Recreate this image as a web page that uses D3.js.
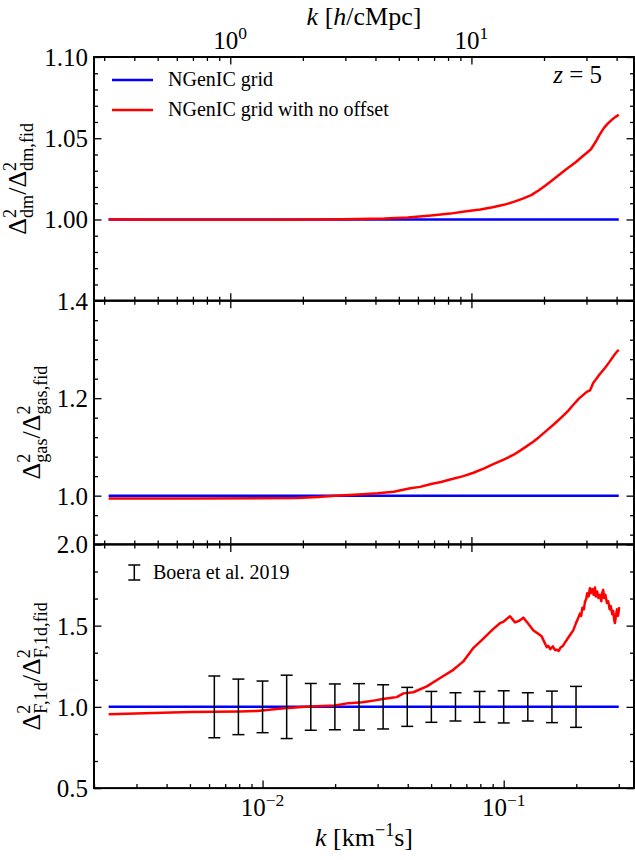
<!DOCTYPE html>
<html>
<head>
<meta charset="utf-8">
<script src="https://cdn.jsdelivr.net/npm/d3@7.9.0/dist/d3.min.js"></script>
<style>
  body { margin: 0; background: #fff; }
  svg text { font-family: "Liberation Serif", "DejaVu Serif", serif; fill: #000; }
</style>
</head>
<body>
<svg id="chart" width="635" height="860"></svg>
<script>
// x range in s/km, and conversion to h/cMpc at z = 5
const kMin = 0.002, kMax = 0.347;
const hPerKms = 136.1;

// fiducial "NGenIC grid" (ratio of itself = 1)
const kFid = [0.0023, 0.30];
const ratioFid = [1, 1];

// "NGenIC grid with no offset" / fiducial
const kDm = [0.0023, 0.004, 0.007, 0.012, 0.018, 0.025, 0.032, 0.040, 0.050, 0.060, 0.070, 0.080,
  0.090, 0.100, 0.110, 0.120, 0.130, 0.140, 0.150, 0.160, 0.170, 0.180, 0.190, 0.200, 0.210,
  0.220, 0.230, 0.240, 0.250, 0.260, 0.270, 0.280, 0.290, 0.300];
const ratioDm = [1.0000, 0.9999, 0.9998, 0.9998, 1.0000, 1.0003, 1.0006, 1.0012, 1.0024, 1.0036,
  1.0050, 1.0062, 1.0075, 1.0090, 1.0108, 1.0128, 1.0150, 1.0180, 1.0212, 1.0245, 1.0275, 1.0305,
  1.0330, 1.0355, 1.0383, 1.0408, 1.0432, 1.0475, 1.0522, 1.0562, 1.0590, 1.0612, 1.0630, 1.0645];

const kGas = [0.0023, 0.005, 0.010, 0.014, 0.017, 0.020, 0.025, 0.030, 0.035, 0.041, 0.045, 0.050,
  0.055, 0.060, 0.068, 0.075, 0.083, 0.091, 0.100, 0.110, 0.120, 0.133, 0.140, 0.151, 0.162,
  0.174, 0.185, 0.194, 0.205, 0.221, 0.228, 0.235, 0.251, 0.263, 0.275, 0.285, 0.294, 0.300];
const ratioGas = [0.9940, 0.9942, 0.9945, 0.9950, 0.9975, 1.0000, 1.0025, 1.0050, 1.0080, 1.0150,
  1.0180, 1.0240, 1.0280, 1.0330, 1.0400, 1.0470, 1.0560, 1.0650, 1.0740, 1.0840, 1.0960, 1.1110,
  1.1200, 1.1340, 1.1470, 1.1610, 1.1740, 1.1860, 1.1990, 1.2130, 1.2160, 1.2310, 1.2500, 1.2620,
  1.2750, 1.2860, 1.2950, 1.2990];

const kFlux = [0.0023, 0.005, 0.008, 0.0095, 0.0117, 0.015, 0.020, 0.0227, 0.026, 0.0293, 0.0315,
  0.0349, 0.0360, 0.0384, 0.0422, 0.0480, 0.0545, 0.0618, 0.0680, 0.0748, 0.0823, 0.0906, 0.0965,
  0.100, 0.1062, 0.1114, 0.1160, 0.1206, 0.1260, 0.1326, 0.1437, 0.1507, 0.1530, 0.1560, 0.1600,
  0.1630, 0.1658, 0.1690, 0.1720, 0.1760, 0.1795, 0.1860, 0.1942, 0.2000, 0.2035, 0.2071, 0.2095,
  0.2120, 0.2150, 0.2172, 0.2200, 0.2220, 0.2250, 0.2278, 0.2300, 0.2330, 0.2360, 0.2389, 0.2410,
  0.2440, 0.2470, 0.2506, 0.2540, 0.2560, 0.2586, 0.2610, 0.2640, 0.2680, 0.2712, 0.2750, 0.2780,
  0.2820, 0.2844, 0.2870, 0.2891, 0.2920, 0.2950, 0.2980, 0.3012];
const ratioFlux = [0.955, 0.968, 0.972, 0.975, 0.989, 1.000, 1.009, 1.023, 1.028, 1.040, 1.048,
  1.058, 1.060, 1.083, 1.090, 1.126, 1.178, 1.228, 1.280, 1.362, 1.420, 1.480, 1.515,
  1.525, 1.558, 1.520, 1.530, 1.549, 1.515, 1.471, 1.434, 1.368, 1.375, 1.355, 1.372,
  1.350, 1.352, 1.345, 1.365, 1.375, 1.395, 1.430, 1.471, 1.520, 1.545, 1.574, 1.560,
  1.610, 1.600, 1.645, 1.665, 1.700, 1.680, 1.730, 1.700, 1.725, 1.690, 1.735, 1.680,
  1.710, 1.670, 1.690, 1.650, 1.700, 1.720, 1.670, 1.690, 1.640, 1.650, 1.600, 1.620,
  1.570, 1.590, 1.540, 1.516, 1.560, 1.600, 1.560, 1.614];

// Boera et al. 2019 relative errors, plotted around 1
const kBoera = [0.00631, 0.00794, 0.0100, 0.01259, 0.01585, 0.01995, 0.02512, 0.03162,
  0.03981, 0.05012, 0.0631, 0.07943, 0.1000, 0.1259, 0.1585, 0.1995];
const errBoera = [0.190, 0.171, 0.159, 0.195, 0.144, 0.141, 0.143, 0.136,
  0.120, 0.095, 0.087, 0.095, 0.099, 0.087, 0.097, 0.126];

const yMajorDm = [1.00, 1.05, 1.10];
const yMinorDm = [0.96, 0.97, 0.98, 0.99, 1.01, 1.02, 1.03, 1.04, 1.06, 1.07, 1.08, 1.09];
const yMajorGas = [1.0, 1.2, 1.4];
const yMinorGas = [0.92, 0.96, 1.04, 1.08, 1.12, 1.16, 1.24, 1.28, 1.32, 1.36];
const yMajorFlux = [0.5, 1.0, 1.5, 2.0];
const yMinorFlux = [0.6667, 0.8333, 1.1667, 1.3333, 1.6667, 1.8333];

const svg = d3.select("#chart");
const left = 94, right = 634, top0 = 57, panelH = 243.7;

const x = d3.scaleLog().domain([kMin, kMax]).range([left, right]);
const xh = d3.scaleLog().domain([kMin * hPerKms, kMax * hPerKms]).range([left, right]);

// writes a line of text with stacked super/subscripts
function mathText(g, parts, size) {
  const text = g.append("text").attr("font-size", size);
  let shift = 0;
  const move = (to) => { const d = to - shift; shift = to; return d; };
  parts.forEach((p) => {
    const base = text.append("tspan").attr("dy", move(0)).text(p.t);
    if (p.it) base.attr("font-style", "italic");
    let w = 0;
    if (p.sup) {
      const s = text.append("tspan").attr("font-size", size * 0.7)
        .attr("dy", move(-size * 0.4)).text(p.sup);
      w = s.node().getComputedTextLength();
    }
    if (p.sub) {
      const s = text.append("tspan").attr("font-size", size * 0.7)
        .attr("dy", move(size * 0.28)).text(p.sub);
      if (w) s.attr("dx", -w);
    }
  });
  return text;
}

function centered(g, parts, size, cx, y) {
  const t = mathText(g, parts, size);
  const w = t.node().getBBox().width;
  t.attr("x", cx - w / 2).attr("y", y);
  return t;
}

const panels = [
  { k: kDm, r: ratioDm, domain: [0.95, 1.10], major: yMajorDm, minor: yMinorDm, fmt: d3.format(".2f"),
    labelX: 26,
    label: [{ t: "Δ", sup: "2", sub: "dm" }, { t: "/" }, { t: "Δ", sup: "2", sub: "dm,fid" }] },
  { k: kGas, r: ratioGas, domain: [0.9, 1.4], major: yMajorGas, minor: yMinorGas, fmt: d3.format(".1f"),
    labelX: 40,
    label: [{ t: "Δ", sup: "2", sub: "gas" }, { t: "/" }, { t: "Δ", sup: "2", sub: "gas,fid" }] },
  { k: kFlux, r: ratioFlux, domain: [0.5, 2.0], major: yMajorFlux, minor: yMinorFlux, fmt: d3.format(".1f"),
    labelX: 40,
    label: [{ t: "Δ", sup: "2", sub: "F,1d" }, { t: "/" }, { t: "Δ", sup: "2", sub: "F,1d,fid" }] }
];

const isDecade = (d) => Math.abs(Math.log10(d) - Math.round(Math.log10(d))) < 1e-6;
const hTicks = xh.ticks();
const hMajor = hTicks.filter(isDecade);
const hMinor = hTicks.filter((d) => !isDecade(d));
const sTicks = x.ticks();
const sMajor = sTicks.filter(isDecade);
const sMinor = sTicks.filter((d) => !isDecade(d));

const tickStyle = (g) => {
  g.select(".domain").remove();
  g.selectAll("line").attr("stroke", "#000").attr("stroke-width", 1.3);
  g.attr("font-family", null).attr("font-size", null);
};

const line = d3.line();

panels.forEach((p, i) => {
  const t = top0 + i * panelH, b = t + panelH;
  const y = d3.scaleLinear().domain(p.domain).range([b, t]);
  const g = svg.append("g");

  g.append("path")
    .attr("d", line(kFid.map((k, j) => [x(k), y(ratioFid[j])])))
    .attr("fill", "none").attr("stroke", "#0000ff").attr("stroke-width", 2.5);
  g.append("path")
    .attr("d", line(p.k.map((k, j) => [x(k), y(p.r[j])])))
    .attr("fill", "none").attr("stroke", "#ff0000").attr("stroke-width", 2.5)
    .attr("stroke-linejoin", "round");

  // y ticks, inward on both sides
  g.append("g").attr("transform", `translate(${left},0)`)
    .call(d3.axisLeft(y).tickValues(p.major).tickSize(-7.5).tickPadding(6).tickFormat(p.fmt))
    .call(tickStyle)
    .call((a) => a.selectAll("text").attr("font-size", 25).attr("dy", "0.34em"));
  g.append("g").attr("transform", `translate(${left},0)`)
    .call(d3.axisLeft(y).tickValues(p.minor).tickSize(-4).tickFormat("")).call(tickStyle);
  g.append("g").attr("transform", `translate(${right},0)`)
    .call(d3.axisRight(y).tickValues(p.major).tickSize(-7.5).tickFormat("")).call(tickStyle);
  g.append("g").attr("transform", `translate(${right},0)`)
    .call(d3.axisRight(y).tickValues(p.minor).tickSize(-4).tickFormat("")).call(tickStyle);

  // x ticks: h/cMpc on top, and on bottom except the last panel
  g.append("g").attr("transform", `translate(0,${t})`)
    .call(d3.axisTop(xh).tickValues(hMajor).tickSize(-7.5).tickFormat("")).call(tickStyle);
  g.append("g").attr("transform", `translate(0,${t})`)
    .call(d3.axisTop(xh).tickValues(hMinor).tickSize(-4).tickFormat("")).call(tickStyle);
  const bx = i < 2 ? xh : x;
  const bMaj = i < 2 ? hMajor : sMajor, bMin = i < 2 ? hMinor : sMinor;
  g.append("g").attr("transform", `translate(0,${b})`)
    .call(d3.axisBottom(bx).tickValues(bMaj).tickSize(-7.5).tickFormat("")).call(tickStyle);
  g.append("g").attr("transform", `translate(0,${b})`)
    .call(d3.axisBottom(bx).tickValues(bMin).tickSize(-4).tickFormat("")).call(tickStyle);

  // y label
  const lg = g.append("g").attr("transform", `translate(${p.labelX},${(t + b) / 2}) rotate(-90)`);
  centered(lg, p.label, 26, 0, 0);

  p.y = y; p.t = t; p.b = b;
});

// Boera et al. 2019 error bars in the flux panel
const yF = panels[2].y;
const eb = svg.append("g").attr("stroke", "#000").attr("stroke-width", 1.5);
kBoera.forEach((k, j) => {
  const cx = x(k), y1 = yF(1 + errBoera[j]), y0 = yF(1 - errBoera[j]);
  eb.append("line").attr("x1", cx).attr("x2", cx).attr("y1", y1).attr("y2", y0);
  eb.append("line").attr("x1", cx - 6).attr("x2", cx + 6).attr("y1", y1).attr("y2", y1);
  eb.append("line").attr("x1", cx - 6).attr("x2", cx + 6).attr("y1", y0).attr("y2", y0);
});

// spines
panels.forEach((p) => {
  svg.append("rect").attr("x", left).attr("y", p.t).attr("width", right - left).attr("height", panelH)
    .attr("fill", "none").attr("stroke", "#000").attr("stroke-width", 2);
});

// log tick labels
const topLabels = svg.append("g");
hMajor.forEach((d) => {
  centered(topLabels, [{ t: "10", sup: String(Math.round(Math.log10(d))) }], 25, xh(d), 49);
});
const botLabels = svg.append("g");
sMajor.forEach((d) => {
  centered(botLabels, [{ t: "10", sup: String(Math.round(Math.log10(d))).replace("-", "\u2212") }], 25, x(d), 816);
});

// axis titles
centered(svg.append("g"), [{ t: "k", it: true }, { t: " [" }, { t: "h", it: true }, { t: "/cMpc]" }], 26, (left + right) / 2, 25);
centered(svg.append("g"), [{ t: "k", it: true }, { t: " [km" }, { t: "", sup: "\u22121" }, { t: "s]" }], 26, (left + right) / 2, 846);

// redshift label
const zl = mathText(svg.append("g"), [{ t: "z", it: true }, { t: " = 5" }], 25);
zl.attr("x", 603 - zl.node().getBBox().width).attr("y", 83);

// legend, top panel
const legend = svg.append("g");
[["NGenIC grid", "#0000ff", 80], ["NGenIC grid with no offset", "#ff0000", 110]].forEach(([name, c, ly]) => {
  legend.append("line").attr("x1", 112).attr("x2", 153).attr("y1", ly).attr("y2", ly)
    .attr("stroke", c).attr("stroke-width", 2.5);
  legend.append("text").attr("x", 168).attr("y", ly + 6).attr("font-size", 20).text(name);
});

// legend, flux panel
const bl = svg.append("g").attr("stroke", "#000").attr("stroke-width", 1.5);
bl.append("line").attr("x1", 134.3).attr("x2", 134.3).attr("y1", 565).attr("y2", 580);
bl.append("line").attr("x1", 128.3).attr("x2", 140.3).attr("y1", 565).attr("y2", 565);
bl.append("line").attr("x1", 128.3).attr("x2", 140.3).attr("y1", 580).attr("y2", 580);
svg.append("text").attr("x", 153).attr("y", 579).attr("font-size", 20).text("Boera et al. 2019");
</script>
</body>
</html>
